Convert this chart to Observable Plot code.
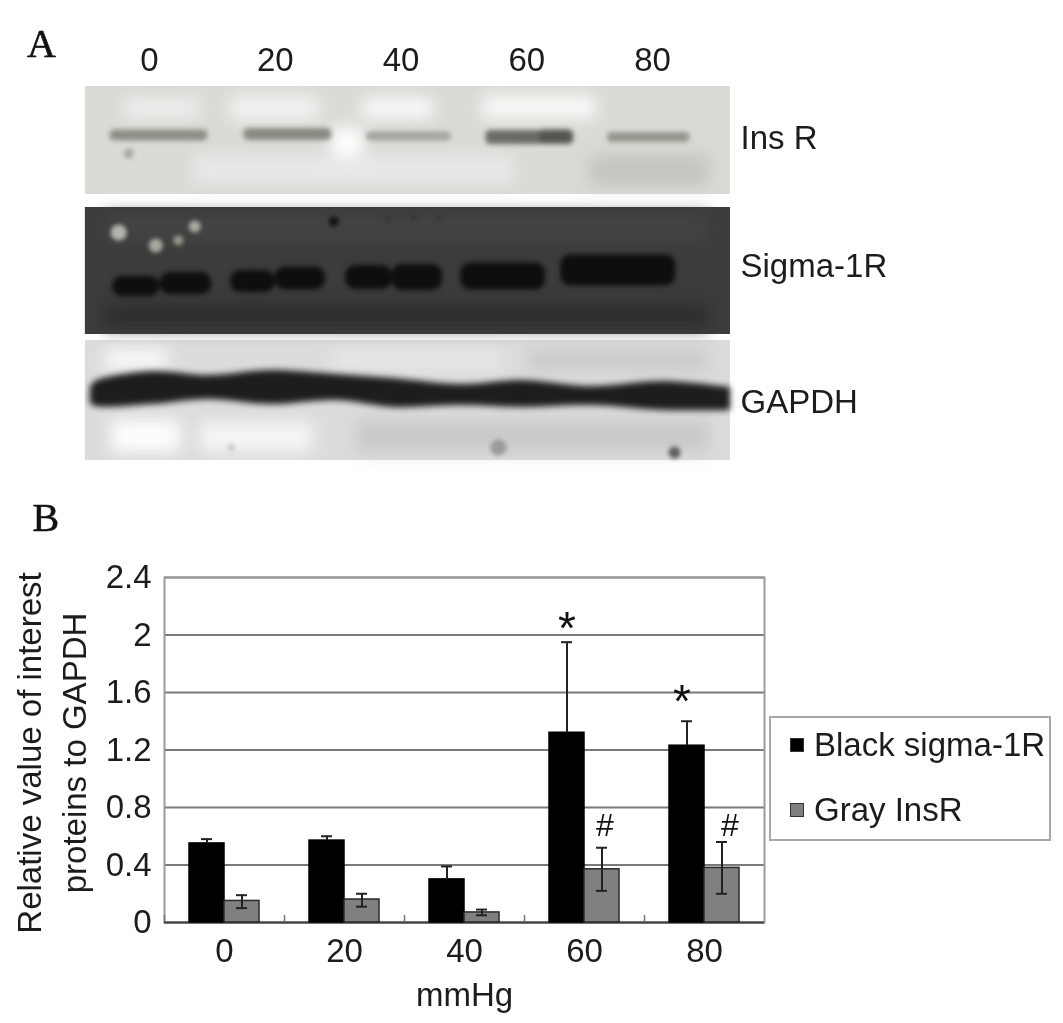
<!DOCTYPE html>
<html><head><meta charset="utf-8">
<script src="https://cdn.jsdelivr.net/npm/d3@7"></script>
<script src="https://cdn.jsdelivr.net/npm/@observablehq/plot@0.6"></script>
<style>
html,body{margin:0;padding:0;background:#fff}
#root{position:relative;width:1063px;height:1023px;overflow:hidden;font-family:"Liberation Sans",Arial,sans-serif;color:#1c1c1c}
#root svg{display:block;background:transparent;filter:blur(.5px)}
#legend{position:absolute;left:769px;top:716px;width:278px;height:121px;border:2px solid #a8a8a8;font-size:33px;filter:blur(.4px)}
#legend div{position:absolute;left:43px;white-space:nowrap;line-height:36px}
#legend i{position:absolute;left:-24px;top:11px;width:14px;height:14px;box-sizing:border-box;border:1.5px solid #333}
</style></head><body><div id="root"></div>
<script>
// Bar chart values
const pressures = ["0", "20", "40", "60", "80"];
const sigmaValue = [0.55, 0.57, 0.30, 1.32, 1.23];
const sigmaHigh  = [0.58, 0.60, 0.39, 1.95, 1.40];
const insrValue  = [0.15, 0.16, 0.07, 0.37, 0.38];
const insrLow    = [0.10, 0.11, 0.05, 0.22, 0.20];
const insrHigh   = [0.19, 0.20, 0.09, 0.52, 0.56];
const seriesNames = ["Black sigma-1R", "Gray InsR"];
const seriesColors = ["#000000", "#808080"];
const yTicks = [0, 0.4, 0.8, 1.2, 1.6, 2, 2.4];
const star60 = [{p: "60", s: "Black sigma-1R", t: "*", y: 2.04}];
const star80 = [{p: "80", s: "Black sigma-1R", t: "*", y: 1.53}];
const hash60 = [{p: "60", s: "Gray InsR", t: "#", y: 0.67}];
const hash80 = [{p: "80", s: "Gray InsR", t: "#", y: 0.67}];

// Blot panels: x in lane units (mmHg), y in migration units
const lanes = [0, 20, 40, 60, 80];
const blotNames = ["Ins R", "Sigma-1R", "GAPDH"];
const blotLabelY = [138, 266, 402];
const panelX = [-10.2, 92.4];
const panels = [
  {y1: 86, y2: 194, fill: "#dadad6"},
  {y1: 207, y2: 334, fill: "#3c3c3c"},
  {y1: 340, y2: 460, fill: "#dcdcdc"}
];
const patches = [
  {x1:-4,x2:8,y1:98,y2:118,fill:"#eeeeec"},{x1:13,x2:27,y1:96,y2:120,fill:"#f2f2f0"},
  {x1:34,x2:45,y1:98,y2:118,fill:"#fafafa"},{x1:53,x2:71,y1:96,y2:118,fill:"#fafaf8"},
  {x1:29,x2:34,y1:128,y2:156,fill:"#ffffff"},{x1:7,x2:58,y1:155,y2:184,fill:"#e8e8e6"},
  {x1:70,x2:89,y1:155,y2:186,fill:"#c4c4c0"},
  {x1:-7,x2:89,y1:303,y2:328,fill:"#2f2f2f"},{x1:-7,x2:89,y1:214,y2:243,fill:"#434343"},
  {x1:-7,x2:3,y1:348,y2:372,fill:"#f6f6f6"},{x1:8,x2:26,y1:422,y2:452,fill:"#f5f5f3"},
  {x1:-6,x2:5,y1:420,y2:452,fill:"#fdfdfd"},{x1:29,x2:56,y1:349,y2:371,fill:"#e6e6e6"},
  {x1:60,x2:89,y1:349,y2:371,fill:"#cbcbcb"},{x1:33,x2:89,y1:420,y2:452,fill:"#c9c9c9"}
];
const insrBands = [
  {x1:-6.3,x2:9.3,y:135,h:11,fill:"#8e8e87"},{x1:15,x2:29,y:134,h:12,fill:"#8a8a83"},
  {x1:34.5,x2:48,y:136,h:9,fill:"#a3a39e"},{x1:53.5,x2:67.5,y:137,h:14,fill:"#6c6c67"},
  {x1:62,x2:67.3,y:136,h:13,fill:"#55554f"},{x1:72.8,x2:86,y:137,h:10,fill:"#95958e"}
];
const sigmaBands = [
  {x1:-5.9,x2:1.7,y:286,h:20},{x1:1.7,x2:9.9,y:283,h:22},
  {x1:12.9,x2:20,y:281,h:22},{x1:20,x2:28,y:278,h:23},
  {x1:31.2,x2:38.6,y:277,h:24},{x1:38.6,x2:46.6,y:277,h:26},
  {x1:49.5,x2:63,y:276,h:27},{x1:65.4,x2:83.7,y:270,h:31}
];
const gapdhBand = [
  {x:-9.4,y1:387,y2:403},{x:-8.6,y1:381,y2:406},{x:0.5,y1:371,y2:404},{x:9.4,y1:375,y2:399},
  {x:19.2,y1:370,y2:404},{x:29.9,y1:374,y2:400},{x:38.8,y1:378,y2:407},{x:49.5,y1:384,y2:405},
  {x:59.3,y1:380,y2:407},{x:70.1,y1:386,y2:405},{x:81.8,y1:381,y2:410},{x:92.4,y1:387,y2:410}
];
const spots = [
  {x:-3.3,y:153,r:5,fill:"#a8a8a4"},{x:-4.9,y:232,r:8,fill:"#b4b4ac"},{x:1,y:245,r:7,fill:"#a8a8a0"},
  {x:4.6,y:240,r:5,fill:"#989890"},{x:7.2,y:226,r:6,fill:"#aaaaa2"},{x:29.3,y:221,r:5,fill:"#141414"},
  {x:38,y:218,r:2,fill:"#262626"},{x:42,y:217,r:2,fill:"#262626"},{x:46,y:217,r:2,fill:"#262626"},
  {x:13,y:447,r:3,fill:"#bdbdbd"},{x:55.5,y:447,r:8,fill:"#9a9a9a"},{x:83.5,y:452,r:6,fill:"#606060"}
];

const root = document.getElementById("root");
const FS = 33;

const blot = Plot.plot({
  width: 1063, height: 555,
  margin: 0,
  x: {type: "linear", domain: [-149 / 6.2875, (1063 - 149) / 6.2875], range: [0, 1063]},
  y: {type: "linear", domain: [0, 555], range: [0, 555], axis: null},
  marks: [
    Plot.axisX(lanes, {anchor: "top", tickSize: 0, tickPadding: 0, dy: 70, label: null, fontSize: FS, fill: "#1c1c1c", tickFormat: d => String(d)}),
    Plot.rect(panels, {x1: () => panelX[0], x2: () => panelX[1], y1: "y1", y2: "y2", fill: "fill"}),
    Plot.rect(patches, {x1: "x1", x2: "x2", y1: "y1", y2: "y2", fill: "fill", imageFilter: "blur(8px)"}),
    Plot.dot(spots, {x: "x", y: "y", r: {value: "r", scale: null}, fill: "fill", imageFilter: "blur(2px)"}),
    Plot.rect(insrBands, {x1: "x1", x2: "x2", y1: d => d.y - d.h / 2, y2: d => d.y + d.h / 2, fill: "fill", r: 5, imageFilter: "blur(2.5px)"}),
    Plot.rect(sigmaBands, {x1: "x1", x2: "x2", y1: d => d.y - d.h / 2, y2: d => d.y + d.h / 2, fill: "#0e0e0e", r: 10, imageFilter: "blur(2.5px)"}),
    Plot.areaY(gapdhBand, {x: "x", y1: "y1", y2: "y2", fill: "#1d1d1d", curve: "catmull-rom", imageFilter: "blur(3px)"}),
    Plot.text(blotNames, {x: () => 94, y: (d, i) => blotLabelY[i], text: d => d, textAnchor: "start", fontSize: FS, fill: "#1c1c1c"}),
    Plot.text(["A"], {x: () => -17.2, y: () => 44, text: d => d, fontFamily: "Liberation Serif", fontSize: 40, fill: "#111", stroke: "#111", strokeWidth: 0.6}),
    Plot.text(["B"], {x: () => -16.5, y: () => 518, text: d => d, fontFamily: "Liberation Serif", fontSize: 40, fill: "#111", stroke: "#111", strokeWidth: 0.6})
  ],
  style: {fontFamily: "Liberation Sans"}
});
root.append(blot);

const rows = pressures.map((p, i) => ({p, sigma: sigmaValue[i], sigmaHigh: sigmaHigh[i], insr: insrValue[i], insrLow: insrLow[i], insrHigh: insrHigh[i]}));
const bars = rows.flatMap(d => [
  {p: d.p, s: seriesNames[0], v: d.sigma, lo: d.sigma, hi: d.sigmaHigh},
  {p: d.p, s: seriesNames[1], v: d.insr, lo: d.insrLow, hi: d.insrHigh}
]);

const tickShape = {draw(c, l) { c.moveTo(0, 0); c.lineTo(0, -l); }};

const chart = Plot.plot({
  width: 1063, height: 468,
  marginTop: 22, marginBottom: 101, marginLeft: 163, marginRight: 299,
  fx: {domain: pressures, padding: 0, label: null},
  x: {domain: seriesNames, paddingInner: 0, paddingOuter: 0.667, axis: null},
  y: {domain: [0, 2.4]},
  marks: [
    Plot.gridY(yTicks, {stroke: "#7a7a7a", strokeOpacity: 1, strokeWidth: 2}),
    Plot.frame({facet: "super", stroke: "#9a9a9a", strokeWidth: 2}),
    Plot.vector([0], {frameAnchor: "bottom-left", length: 7, rotate: 0, anchor: "start", shape: tickShape, stroke: "#777", strokeWidth: 1.5}),
    Plot.ruleY([0], {stroke: "#444", strokeWidth: 2}),
    Plot.barY(bars, {fx: "p", x: "s", y: "v", fill: "s", stroke: d => d.s === seriesNames[1] ? "#2a2a2a" : "#000", strokeWidth: 1.5}),
    Plot.ruleX(bars, {fx: "p", x: "s", y1: "lo", y2: "hi", stroke: "#222", strokeWidth: 2}),
    Plot.tickY(bars, {fx: "p", x: "s", y: "hi", stroke: "#222", strokeWidth: 2, insetLeft: 12, insetRight: 12}),
    Plot.tickY(bars.filter(d => d.lo !== d.v), {fx: "p", x: "s", y: "lo", stroke: "#222", strokeWidth: 2, insetLeft: 12, insetRight: 12}),
    Plot.text(star60, {fx: "p", x: "s", y: "y", text: "t", fontSize: 46, fill: "#111"}),
    Plot.text(star80, {fx: "p", x: "s", y: "y", text: "t", dx: -5, fontSize: 46, fill: "#111"}),
    Plot.text(hash60, {fx: "p", x: "s", y: "y", text: "t", dx: 3, fontSize: 32, fill: "#111"}),
    Plot.text(hash80, {fx: "p", x: "s", y: "y", text: "t", dx: 8, fontSize: 32, fill: "#111"}),
    Plot.axisY(yTicks, {anchor: "left", tickSize: 0, tickPadding: 13, label: null, fontSize: FS, fill: "#1c1c1c", tickFormat: d => String(d)}),
    Plot.axisFx({anchor: "bottom", tickSize: 0, tickPadding: 16, label: null, fontSize: FS, fill: "#1c1c1c"}),
    Plot.text(["mmHg"], {facet: "super", frameAnchor: "bottom", dy: 83, text: d => d, fontSize: FS, fill: "#1c1c1c"}),
    Plot.text(["Relative value of interest\nproteins to GAPDH"], {facet: "super", frameAnchor: "left", textAnchor: "middle", dx: -115, dy: 3, rotate: -90, lineHeight: 1.36, text: d => d, fontSize: FS, fill: "#1c1c1c"})
  ],
  color: {domain: seriesNames, range: seriesColors},
  style: {fontFamily: "Liberation Sans"}
});
root.append(chart);

const legend = document.createElement("div");
legend.id = "legend";
seriesNames.forEach((name, i) => {
  const row = document.createElement("div");
  row.style.top = (i === 0 ? 9 : 74) + "px";
  row.textContent = name;
  const sw = document.createElement("i");
  sw.style.background = seriesColors[i];
  row.prepend(sw);
  legend.append(row);
});
root.append(legend);
</script></body></html>
